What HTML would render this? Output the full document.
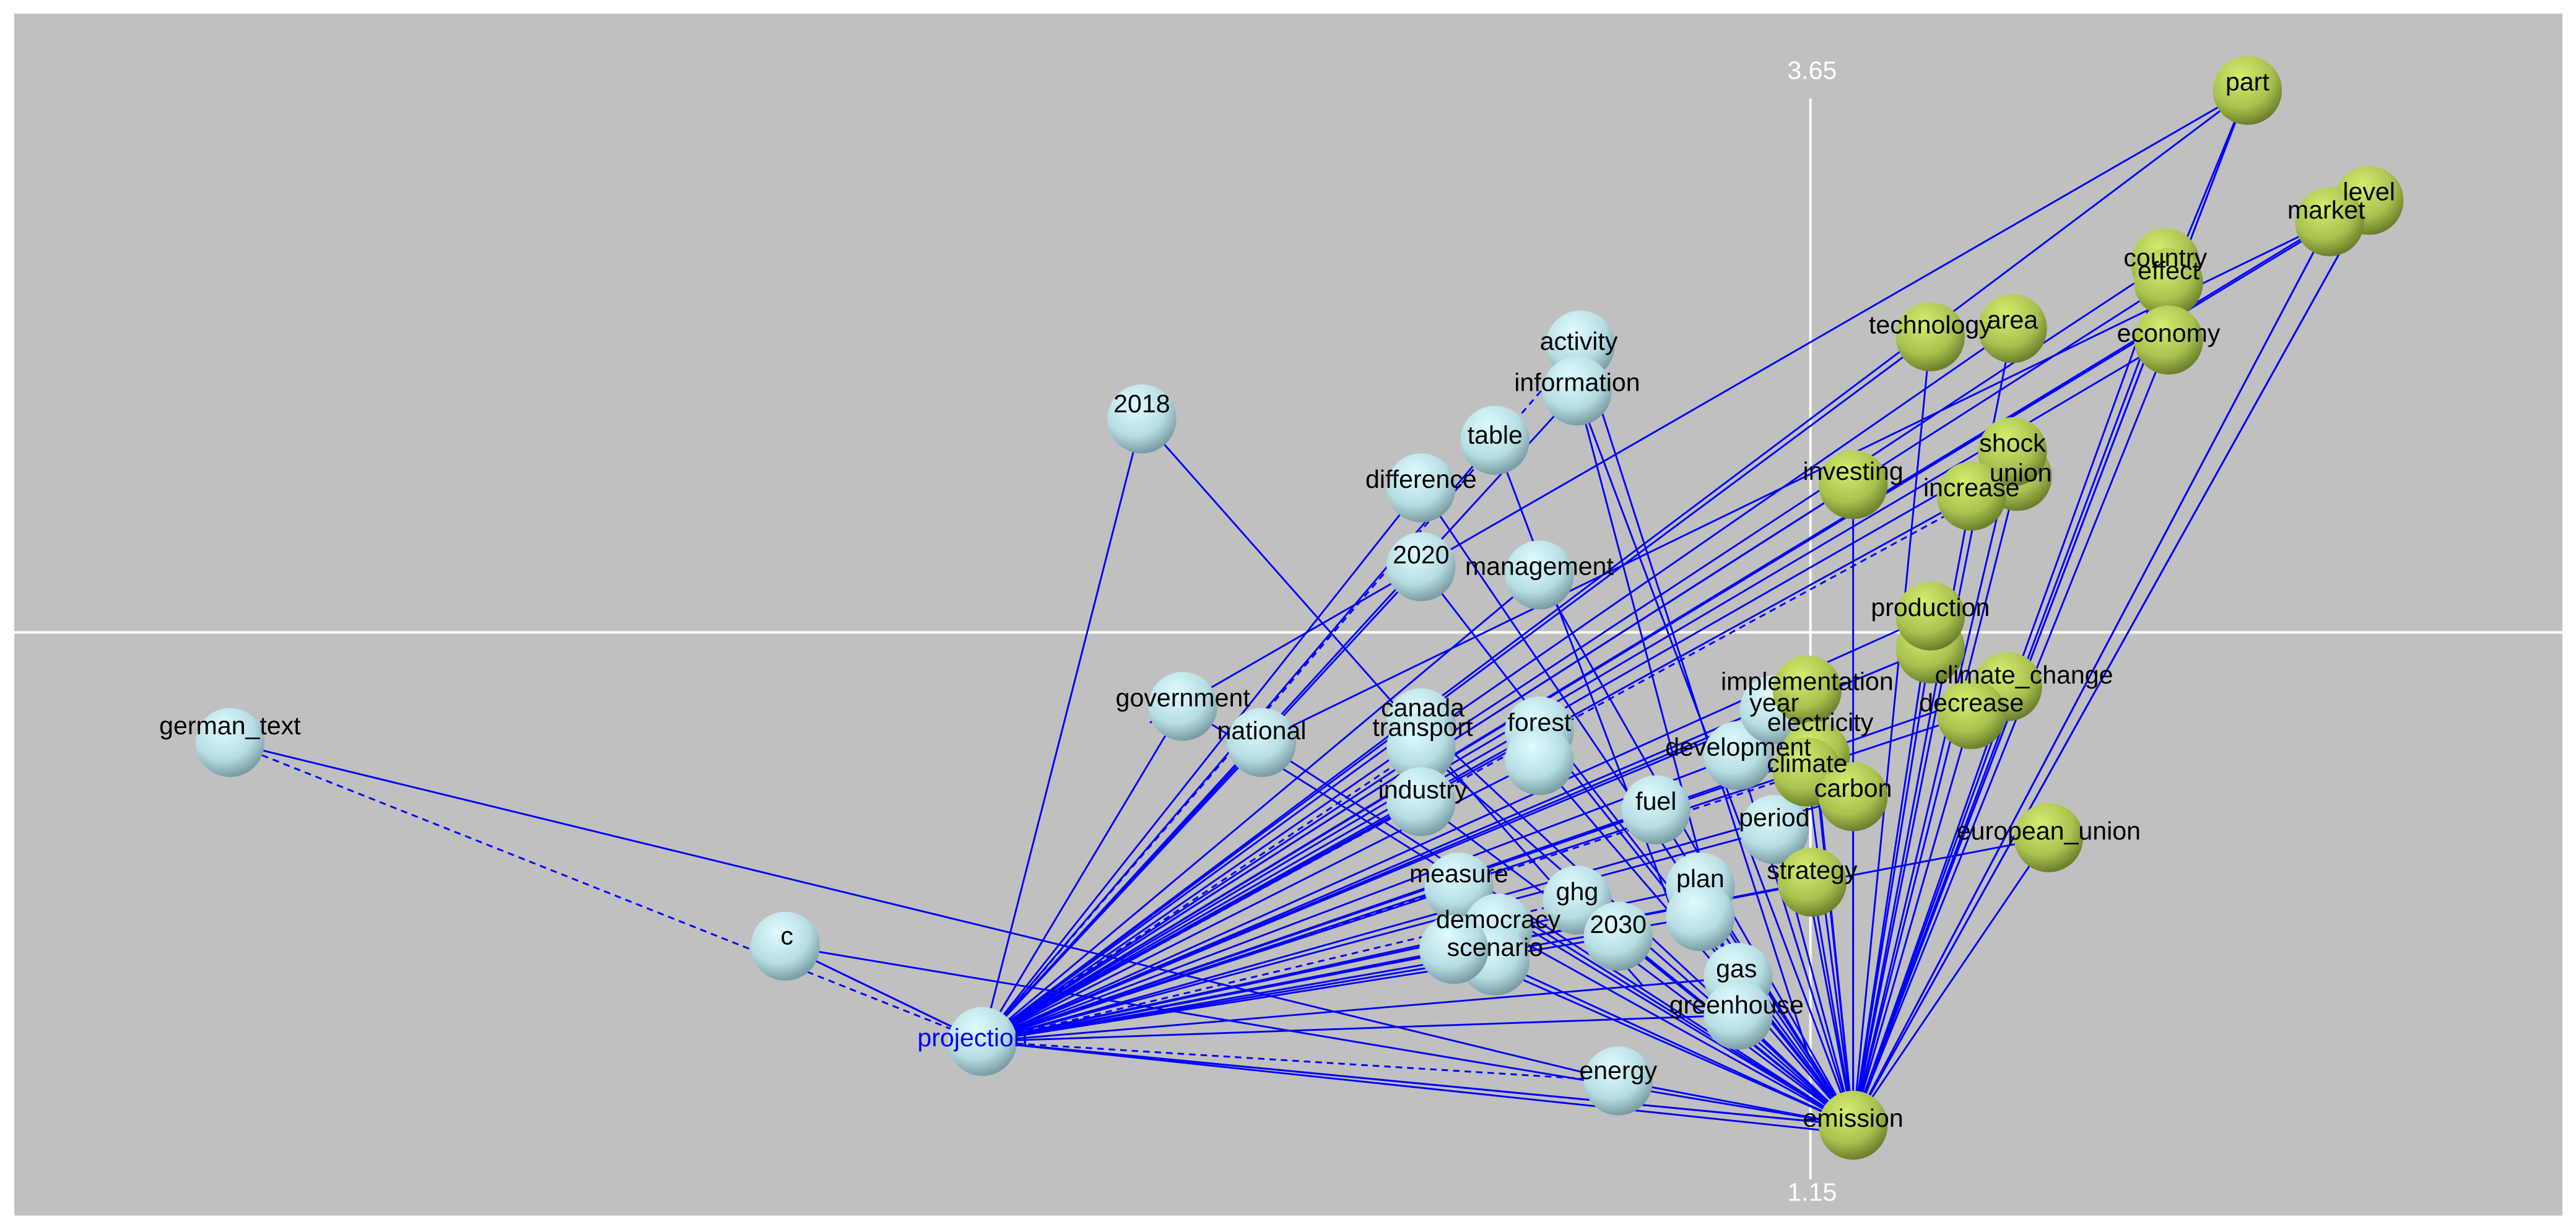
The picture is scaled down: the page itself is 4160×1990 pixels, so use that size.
<!DOCTYPE html>
<html><head><meta charset="utf-8"><style>
html,body{margin:0;padding:0;background:#fff;width:4160px;height:1990px;overflow:hidden}
svg{display:block}
text{font-family:"Liberation Sans",sans-serif;font-size:15.5px;fill:#000;text-anchor:middle}
</style></head><body>
<svg id="s" width="4160" height="1990" viewBox="0 0 1568 750" preserveAspectRatio="none">
<defs>
<radialGradient id="gb" cx="0.4" cy="0.3" r="0.75"><stop offset="0" stop-color="#e0fcff"/><stop offset="0.6" stop-color="#b6dde4"/><stop offset="1" stop-color="#6f9098"/></radialGradient>
<radialGradient id="gg" cx="0.4" cy="0.3" r="0.75"><stop offset="0" stop-color="#d4ee6e"/><stop offset="0.6" stop-color="#a9c250"/><stop offset="1" stop-color="#5f7424"/></radialGradient>
</defs>
<rect x="8.7" y="8.3" width="1551" height="731.7" fill="#c0c0c0"/>
<line x1="1102" y1="60" x2="1102" y2="718" stroke="#fff" stroke-width="1.5"/>
<line x1="8.7" y1="385" x2="1560" y2="385" stroke="#fff" stroke-width="1.5"/>
<text x="1103" y="48" style="fill:#fff">3.65</text>
<text x="1103" y="731" style="fill:#fff">1.15</text>
<g id="edges" stroke="#0000ff" stroke-width="1.1" fill="none"></g>
<g id="nodes"></g>
<g id="labels">
<text x="140" y="447">german_text</text>
<text x="479" y="575">c</text>
<text x="592" y="637" style="fill:#0000ff">projection</text>
<text x="695" y="251">2018</text>
<text x="961" y="213">activity</text>
<text x="960" y="238">information</text>
<text x="910" y="270">table</text>
<text x="865" y="297">difference</text>
<text x="865" y="343">2020</text>
<text x="937" y="350">management</text>
<text x="720" y="430">government</text>
<text x="768" y="450">national</text>
<text x="866" y="436">canada</text>
<text x="866" y="448">transport</text>
<text x="937" y="445">forest</text>
<text x="866" y="486">industry</text>
<text x="1058" y="460">development</text>
<text x="1080" y="433">year</text>
<text x="1008" y="493">fuel</text>
<text x="1080" y="503">period</text>
<text x="888" y="537">measure</text>
<text x="960" y="548">ghg</text>
<text x="1035" y="540">plan</text>
<text x="985" y="568">2030</text>
<text x="912" y="565">democracy</text>
<text x="910" y="582">scenario</text>
<text x="1057" y="595">gas</text>
<text x="1057" y="617">greenhouse</text>
<text x="985" y="657">energy</text>
<text x="1128" y="686">emission</text>
<text x="1368" y="55">part</text>
<text x="1442" y="122">level</text>
<text x="1416" y="133">market</text>
<text x="1318" y="162">country</text>
<text x="1320" y="170">effect</text>
<text x="1320" y="208">economy</text>
<text x="1175" y="203">technology</text>
<text x="1225" y="200">area</text>
<text x="1225" y="275">shock</text>
<text x="1230" y="293">union</text>
<text x="1200" y="302">increase</text>
<text x="1128" y="292">investing</text>
<text x="1175" y="375">production</text>
<text x="1100" y="420">implementation</text>
<text x="1232" y="416">climate_change</text>
<text x="1200" y="433">decrease</text>
<text x="1108" y="445">electricity</text>
<text x="1100" y="470">climate</text>
<text x="1128" y="485">carbon</text>
<text x="1103" y="535">strategy</text>
<text x="1247" y="511">european_union</text>
</g>
</svg>
<script>
var B=[[140,452],[478,576],[598,634],[695,255],[962,210],[960,238],[910,268],[865,297],[865,345],[937,350],[720,430],[768,452],[865,440],[865,455],[937,445],[937,463],[865,488],[1058,460],[1080,432],[1008,493],[1080,505],[888,540],[960,548],[1035,540],[1035,558],[985,570],[912,565],[910,585],[885,578],[1058,595],[1058,618],[985,658]];
var G=[[1368,55],[1442,122],[1418,135],[1318,160],[1320,172],[1320,207],[1175,205],[1225,200],[1228,290],[1225,275],[1200,302],[1128,295],[1175,395],[1175,375],[1100,420],[1222,418],[1105,460],[1100,470],[1200,435],[1128,485],[1103,537],[1247,510],[1128,685]];
var P=[598,634],E=[1128,685];
var ns="http://www.w3.org/2000/svg",eg=document.getElementById('edges'),ng=document.getElementById('nodes');
function ln(a,b,d){var l=document.createElementNS(ns,'line');l.setAttribute('x1',a[0]);l.setAttribute('y1',a[1]);l.setAttribute('x2',b[0]);l.setAttribute('y2',b[1]);if(d)l.setAttribute('stroke-dasharray','4 3');eg.appendChild(l);}
var all=B.concat(G),i;
for(i=0;i<all.length;i++){var n=all[i];if(n===P||n===E)continue;
 if(i!=0&&i!=2)ln(P,n,i%9==4);
 if(i>2&&i!=3&&i!=4&&i!=6)ln(E,n,false);}
ln([140,452],P,true);ln([140,452],[985,658]);ln([478,576],P);ln([478,576],E);ln([695,255],[1000,600]);
ln([1368,55],[1320,172]);ln([1368,55],[700,440]);ln([1418,135],[770,450]);ln([1442,122],E);ln([1418,135],E);ln([1368,55],E);
ln(P,E);ln(P,[1128,690]);ln([962,210],[1100,640]);ln([960,238],[1058,610]);ln([910,268],[1020,560]);
function c(n,g){var e=document.createElementNS(ns,'circle');e.setAttribute('cx',n[0]);e.setAttribute('cy',n[1]);e.setAttribute('r',21);e.setAttribute('fill','url(#'+g+')');ng.appendChild(e);}
B.forEach(function(n){c(n,'gb')});G.forEach(function(n){c(n,'gg')});
</script>
</body></html>
